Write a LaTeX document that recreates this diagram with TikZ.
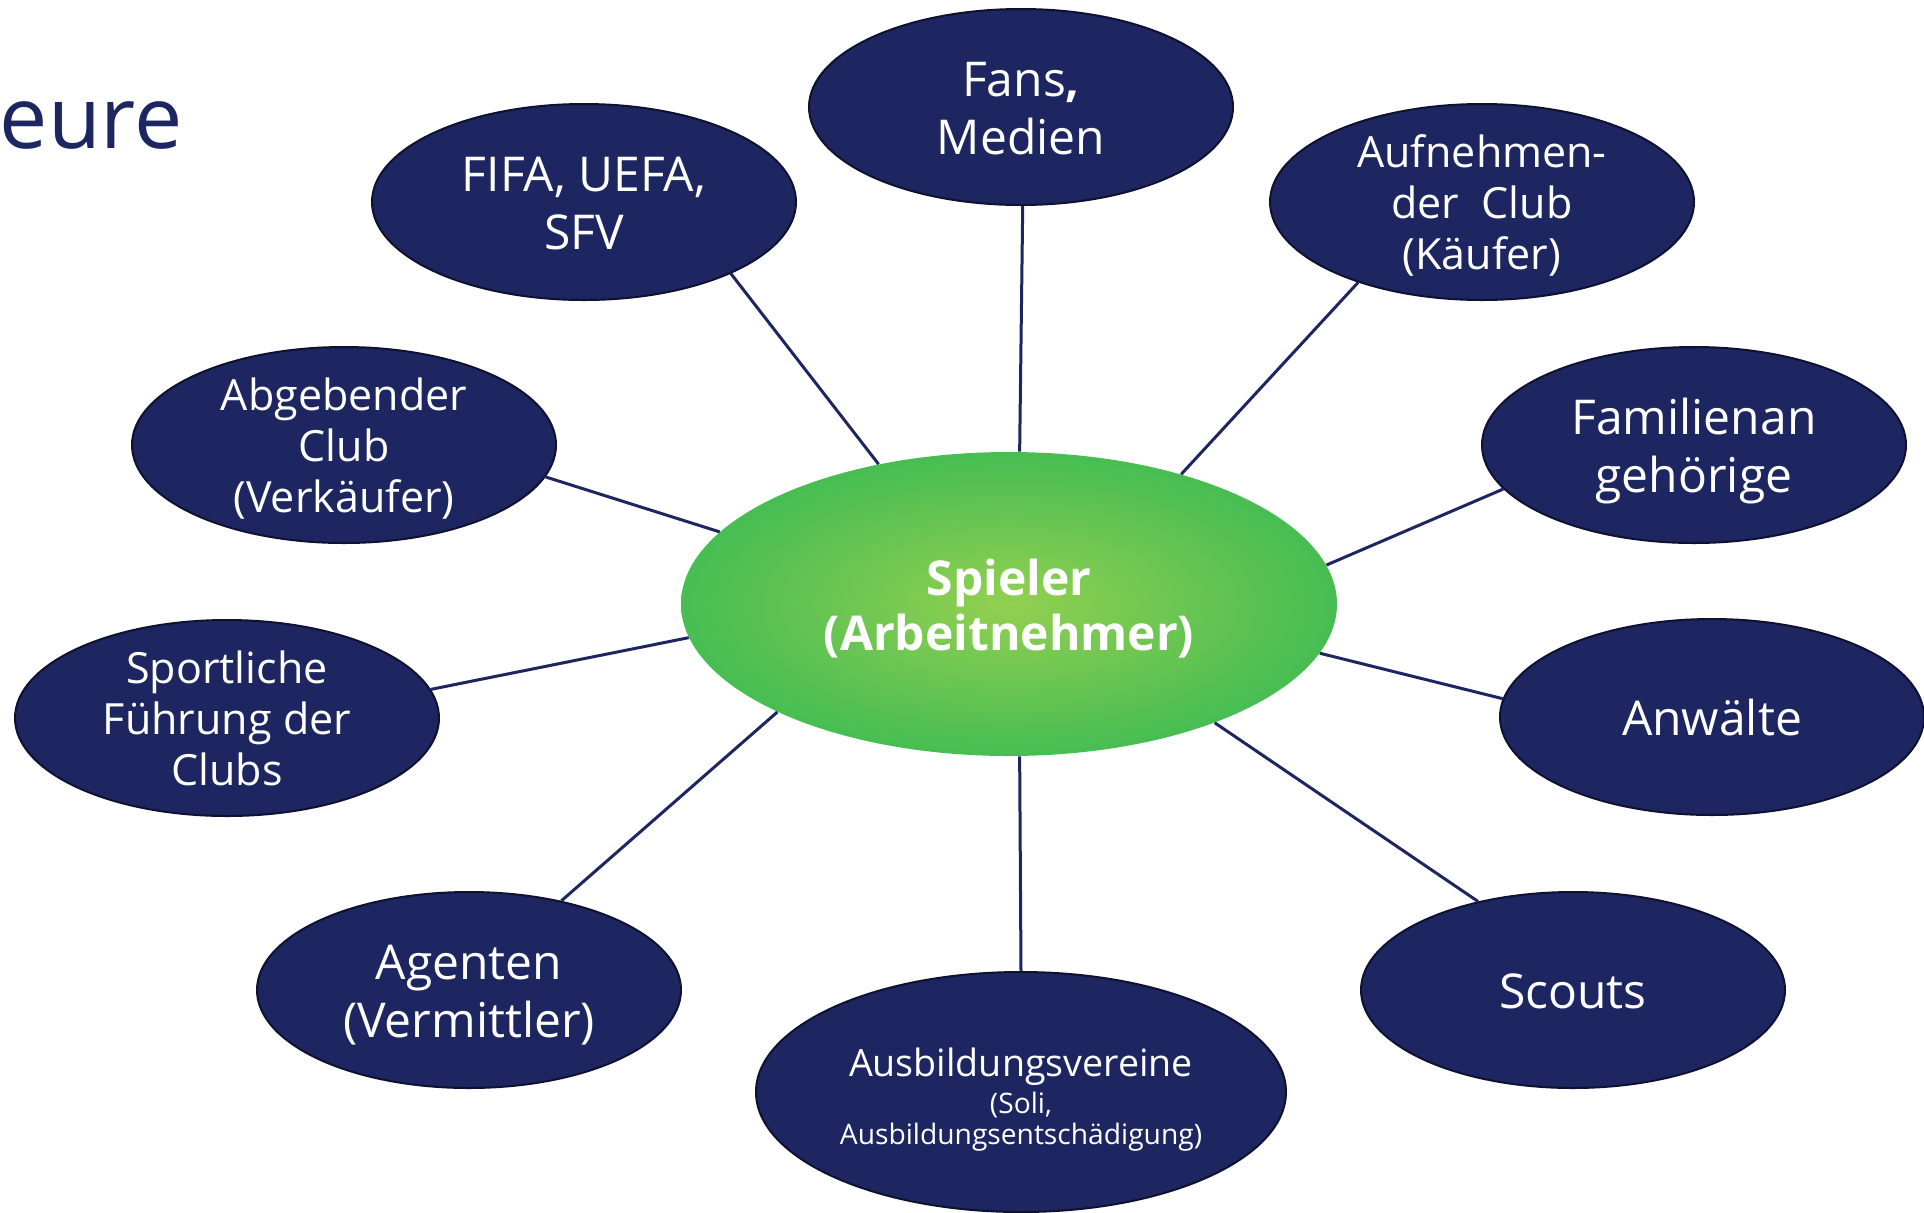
\documentclass[tikz,border=0pt]{standalone}
\usepackage{fontspec}
\setmainfont{Open Sans}
\usetikzlibrary{shapes.geometric}
\definecolor{navy}{RGB}{29,38,96}
\definecolor{rim}{RGB}{14,18,48}
\definecolor{lgreen}{RGB}{146,208,80}
\definecolor{mgreen}{RGB}{92,194,82}
\definecolor{dgreen}{RGB}{0,176,80}
\pgfdeclareradialshading{spielershade}{\pgfpoint{0bp}{0bp}}{color(0bp)=(lgreen); color(18bp)=(mgreen); color(48bp)=(dgreen); color(100bp)=(dgreen)}
\newcommand{\myTop}{\rule{0pt}{1.03em}}
\newcommand{\myBot}{\rule[-0.25em]{0pt}{0.25em}}
\newcommand{\smallline}{\fontsize{14.1}{15.5}\selectfont}
\AtBeginDocument{\lineskiplimit=-30pt\relax}
\tikzset{
  actor/.style={ellipse, draw=rim, line width=1pt, fill=navy, text=white,
    minimum width=212pt, minimum height=98pt, inner xsep=0pt, inner ysep=-12pt, align=center,
    font=\fontsize{24}{29}\selectfont},
  actorsmall/.style={actor, font=\fontsize{21.5}{25.5}\selectfont},
  link/.style={draw=navy, line width=1.5pt},
}
\begin{document}
\begin{tikzpicture}[x=0.5pt, y=-0.5pt]
\useasboundingbox (0,0) rectangle (1924,1212);
\node[font=\fontsize{43}{50}\selectfont, text=navy, anchor=base east, inner sep=0pt] (title) at (183,148) {eure};

\node[ellipse, minimum width=328pt, minimum height=152pt, inner sep=0pt, shading=spielershade,
  text=white, align=center, font=\bfseries\fontsize{24}{27.5}\selectfont] (spieler) at (1009,604)
  {\rule{0pt}{1.04em}Spieler\\(Arbeitnehmer)\myBot};

\node[actor] (fans) at (1021,107) {\myTop Fans{\bfseries ,}\\Medien\myBot};
\node[actor] (fifa) at (584,202) {\myTop FIFA, UEFA,\\SFV\myBot};
\node[actorsmall] (aufn) at (1482,202) {\myTop Aufnehmen-\\der\ \ Club\\(Käufer)\myBot};
\node[actorsmall] (abg) at (344,445) {\myTop Abgebender\\Club\\(Verkäufer)\myBot};
\node[actor] (fam) at (1694,445) {\myTop Familienan\\gehörige\myBot};
\node[actorsmall] (sport) at (227,718) {\myTop Sportliche\\Führung der\\Clubs\myBot};
\node[actor] (anw) at (1712,717) {\myTop Anwälte\myBot};
\node[actor] (agent) at (469,990) {\myTop Agenten\\(Vermittler)\myBot};
\node[actor] (scouts) at (1573,990) {\myTop Scouts\myBot};
\node[actor, minimum width=265pt, minimum height=120pt,
  font=\fontsize{18.8}{15.5}\selectfont] (ausb) at (1021,1092)
  {\rule{0pt}{22.2pt}Ausbildungsvereine\\[3pt]\smallline (Soli,\\\smallline Ausbildungsentschädigung)\rule[-4pt]{0pt}{4pt}};

\draw[link] (spieler.133.9) -- (fifa.-26.6);
\draw[link] (spieler.86.6) -- (fans.-89.5);
\draw[link] (spieler.37.6) -- (aufn.-147);
\draw[link] (spieler.7.8) -- (fam.-167.8);
\draw[link] (spieler.-9) -- (anw.175.9);
\draw[link] (spieler.-30.6) -- (scouts.137.8);
\draw[link] (spieler.-86) -- (ausb.90);
\draw[link] (spieler.-155) -- (agent.44.7);
\draw[link] (spieler.-174.1) -- (sport.8.4);
\draw[link] (spieler.166.2) -- (abg.-9.9);
\end{tikzpicture}
\end{document}
